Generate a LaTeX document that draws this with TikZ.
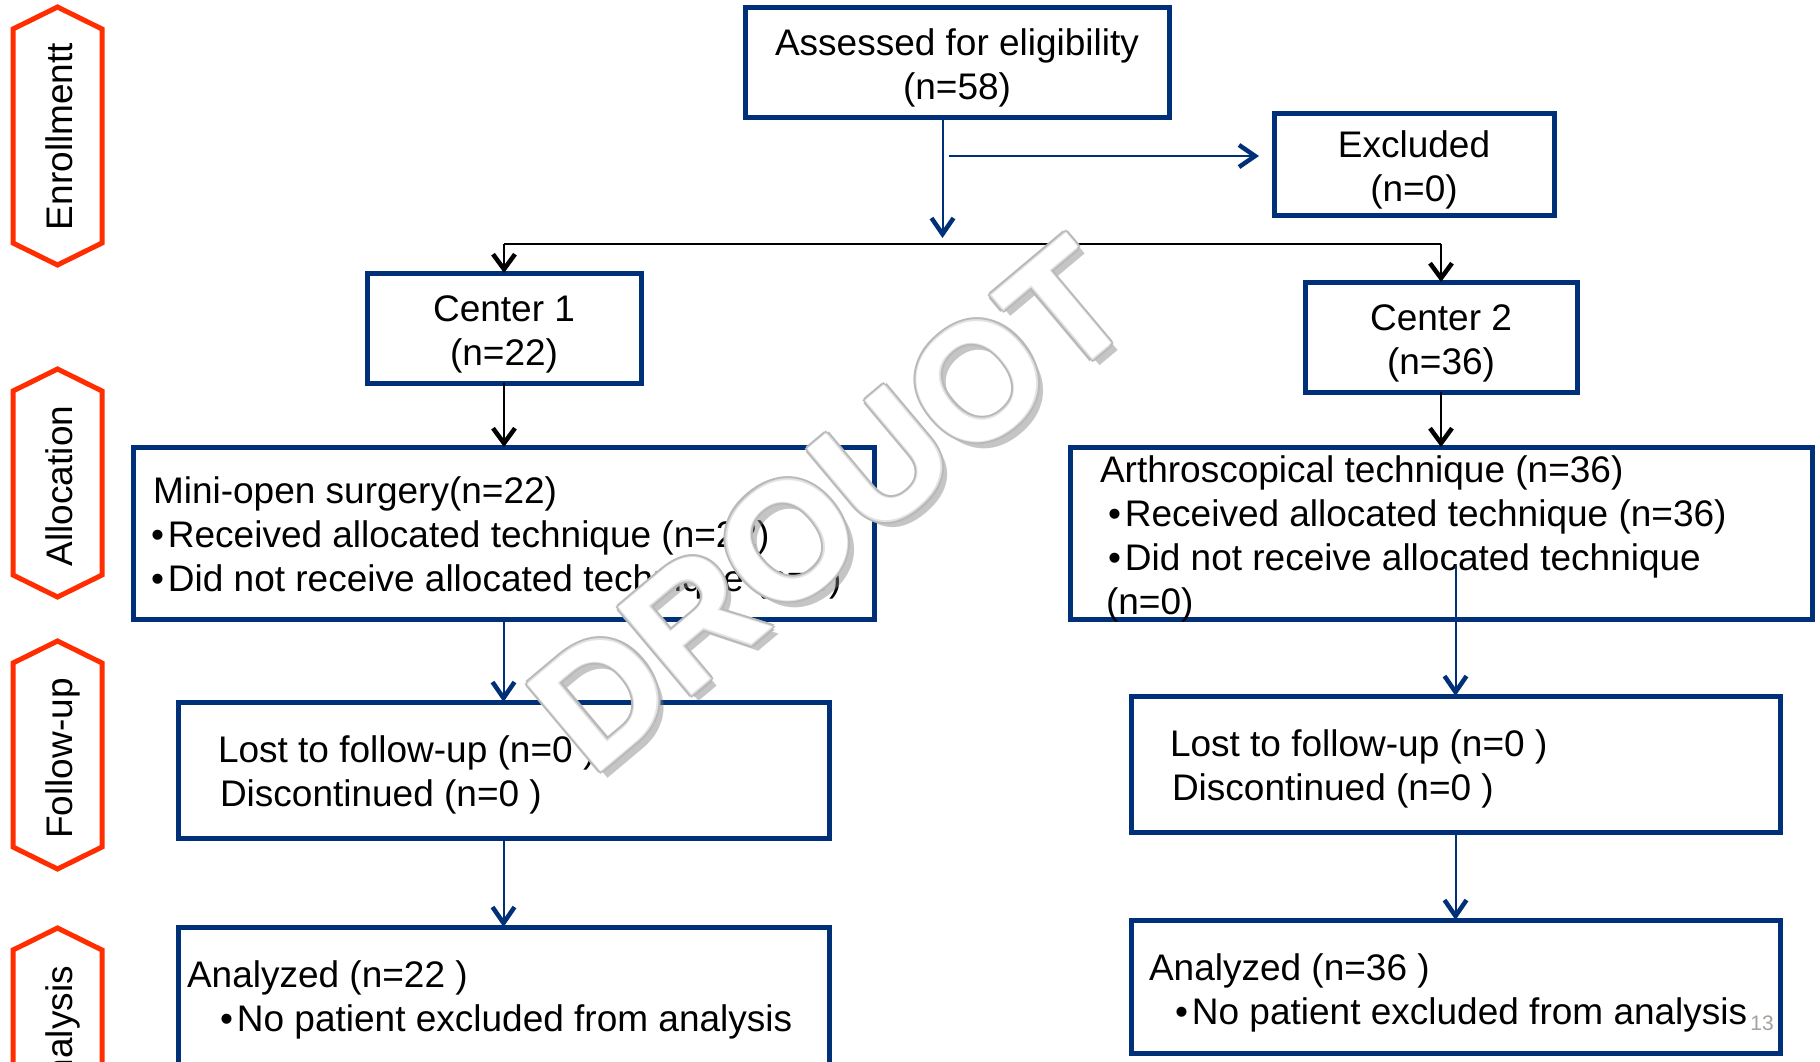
\documentclass[tikz,border=0pt]{standalone}
\usepackage{fontspec}
\setmainfont{Liberation Sans}
\usetikzlibrary{arrows.meta,calc}
\definecolor{navy}{RGB}{0,48,120}
\definecolor{hexred}{RGB}{255,45,0}
\definecolor{pgnum}{RGB}{168,160,154}
\newcommand\bodyfont{\fontsize{37}{44}\selectfont}
\newcommand\bul{\hspace*{1pt}•\hspace{4pt}}
\begin{document}
\begin{tikzpicture}[x=1pt,y=-1pt,
  every node/.style={inner sep=0pt, outer sep=0pt},
  box/.style={draw=navy, line width=5pt},
  ctxt/.style={align=center, font=\bodyfont},
  txt/.style={align=left, anchor=west, font=\bodyfont},
  hexa/.style={draw=hexred, line width=5pt, line join=miter},
  hextxt/.style={rotate=90, anchor=base, font=\bodyfont},
  barrow/.style={draw=navy, line width=2pt, -{Straight Barb[length=16pt,width=22pt,line width=4.5pt]}},
  karrow/.style={draw=black, line width=2pt, -{Straight Barb[length=15pt,width=22pt,line width=4.5pt]}},
  kline/.style={draw=black, line width=2pt},
  wm/.style={rotate=40, font=\fontsize{165}{165}\selectfont\bfseries},
]
\clip (0,0) rectangle (1820,1061);
\fill[white] (0,0) rectangle (1820,1061);

% side hexagons
\draw[hexa] (57.5,7) -- (102,29) -- (102,243) -- (57.5,265) -- (13,243) -- (13,29) -- cycle;
\node[hextxt] (lenr) at (72,136.5) {Enrollmentt};
\draw[hexa] (57.5,369) -- (102,391) -- (102,575) -- (57.5,597) -- (13,575) -- (13,391) -- cycle;
\node[hextxt] (lall) at (72,486) {Allocation};
\draw[hexa] (57.5,641) -- (102,663) -- (102,847) -- (57.5,869) -- (13,847) -- (13,663) -- cycle;
\node[hextxt] (lfol) at (72,758.5) {Follow-up};
\draw[hexa] (57.5,928) -- (102,950) -- (102,1100) -- (13,1100) -- (13,950) -- cycle;
\node[hextxt] (lana) at (72,1035) {Analysis};

% boxes
\node[box, minimum width=424, minimum height=110] (assess) at (957,62) {};
\node[box, minimum width=280, minimum height=102] (excl) at (1414,164) {};
\node[box, minimum width=274, minimum height=110] (c1) at (504,328) {};
\node[box, minimum width=272, minimum height=110] (c2) at (1441,337) {};
\node[box, minimum width=741, minimum height=172] (mini) at (503.5,533) {};
\node[box, minimum width=742, minimum height=172] (arthro) at (1441,533) {};
\node[box, minimum width=651, minimum height=136] (folL) at (503.5,770) {};
\node[box, minimum width=649, minimum height=136] (folR) at (1455.5,764) {};
\node[box, minimum width=651, minimum height=139] (anaL) at (503.5,996.5) {};
\node[box, minimum width=649, minimum height=133] (anaR) at (1455.5,986.5) {};

% texts in boxes
\node[ctxt] (assesst) at ($(assess.center)+(0,6)$) {Assessed for eligibility\\(n=58)};
\node[ctxt] (exclt) at ($(excl.center)+(0,6)$) {Excluded\\(n=0)};
\node[ctxt] (c1t) at ($(c1.center)+(0,6)$) {Center 1\\(n=22)};
\node[ctxt] (c2t) at ($(c2.center)+(0,6)$) {Center 2\\(n=36)};
\node[txt] (minit) at (150,538) {\hspace*{3pt}Mini-open surgery(n=22)\\\bul Received allocated technique (n=22)\\\bul Did not receive allocated technique (n=0)};
\node[txt] (arthrot) at (1100,539) {Arthroscopical technique (n=36)\\\hspace*{7pt}\bul Received allocated technique (n=36)\\\hspace*{7pt}\bul Did not receive allocated technique\\\hspace*{6pt}(n=0)};
\node[txt] (folLt) at (218,775) {Lost to follow-up (n=0 )\\\hspace*{2pt}Discontinued (n=0 )};
\node[txt] (folRt) at (1170,769) {Lost to follow-up (n=0 )\\\hspace*{2pt}Discontinued (n=0 )};
\node[txt] (anaLt) at (187,1000) {Analyzed (n=22 )\\\hspace*{32pt}\bul No patient excluded from analysis};
\node[txt] (anaRt) at (1149,993) {Analyzed (n=36 )\\\hspace*{25pt}\bul No patient excluded from analysis};
\node[font=\fontsize{21}{21}\selectfont, text=pgnum] (pnum) at (1762,1023) {13};

% connectors
\coordinate (split) at (942.5,238);
\coordinate (busy) at (0,244);
\coordinate (exs) at (949,156);
\coordinate (arstart) at (1455.5,566);
\draw[barrow] (assess.south -| split) -- (split);
\draw[barrow] (exs) -- ([xshift=-15pt]excl.west |- exs);
\draw[kline] (c1.north |- busy) -- (c2.north |- busy);
\draw[karrow] (c1.north |- busy) -- (c1.north);
\draw[karrow] (c2.north |- busy) -- (c2.north);
\draw[karrow] (c1.south) -- (c1.south |- mini.north);
\draw[karrow] (c2.south) -- (c2.south |- arthro.north);
\draw[barrow] (mini.south -| folL.north) -- (folL.north);
\draw[barrow] (arstart) -- (folR.north);
\draw[barrow] (folL.south) -- (anaL.north);
\draw[barrow] (folR.south) -- (anaR.north);

% watermark
\coordinate (wmc) at (830,505);
\node[wm, text=black!50, opacity=0.45] (wms) at ($(wmc)+(7,7)$) {DROUOT};
\foreach \dx/\dy [count=\i] in {3.5/0,-3.5/0,0/3.5,0/-3.5,2.5/2.5,-2.5/2.5,2.5/-2.5,-2.5/-2.5}
  \node[wm, text=gray!55, name=wmo\i] at ($(wmc)+(\dx,\dy)$) {DROUOT};
\foreach \dx/\dy [count=\i] in {1.5/0,-1.5/0,0/1.5,0/-1.5}
  \node[wm, text=gray!22, name=wmi\i] at ($(wmc)+(\dx,\dy)$) {DROUOT};
\node[wm, text=white] (wmf) at (wmc) {DROUOT};
\end{tikzpicture}
\end{document}
